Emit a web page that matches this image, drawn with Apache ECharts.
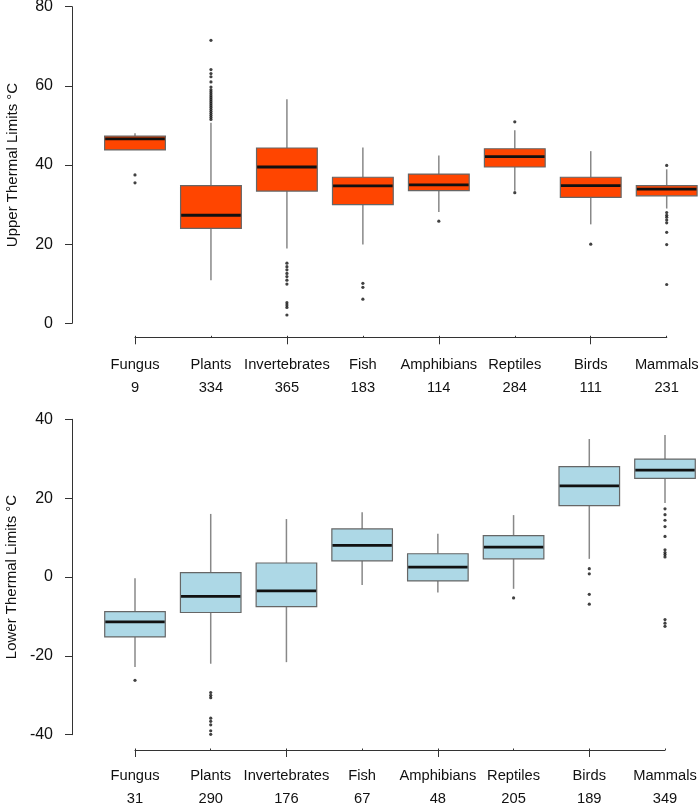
<!DOCTYPE html>
<html>
<head>
<meta charset="utf-8">
<script src="https://cdn.jsdelivr.net/npm/echarts@6/dist/echarts.min.js"></script>
<style>
html,body{margin:0;padding:0;background:#fff;}
#chart{width:700px;height:806px;}
</style>
</head>
<body>
<div id="chart"></div>
<script>
// ---- Data ----
const categories = ['Fungus','Plants','Invertebrates','Fish','Amphibians','Reptiles','Birds','Mammals'];
const upperCounts = [9,334,365,183,114,284,111,231];
const lowerCounts = [31,290,176,67,48,205,189,349];

const upperTicks = [0,20,40,60,80];
const lowerTicks = [-40,-20,0,20,40];

// Upper thermal limits: whisker low, Q1, median, Q3, whisker high
const upperLow    = [43.8, 10.9, 18.9, 19.9, 28.1, 33.5, 25.0, 29.0];
const upperQ1     = [43.8, 24.0, 33.4, 30.0, 33.5, 39.5, 31.8, 32.2];
const upperMedian = [46.6, 27.3, 39.5, 34.7, 35.0, 42.1, 34.8, 33.9];
const upperQ3     = [47.3, 34.8, 44.3, 36.9, 37.7, 44.1, 36.9, 34.8];
const upperHigh   = [48.0, 50.7, 56.6, 44.4, 42.4, 48.8, 43.5, 38.9];
const upperOutliers = [
  [37.5, 35.5],
  [71.5, 64.1, 63.1, 62.3, 61.0, 59.7, 59.0, 58.5, 58.0, 57.5, 57.0, 56.5, 56.0, 55.5, 55.0, 54.5, 54.0, 53.5, 53.0, 52.5, 52.0, 51.5],
  [15.2, 14.3, 13.5, 12.6, 11.8, 10.9, 9.9, 5.2, 4.6, 4.0, 2.1],
  [10.1, 9.1, 6.1],
  [25.8],
  [50.9, 33.0],
  [20.0],
  [39.9, 28.0, 27.3, 26.8, 26.1, 25.4, 23.0, 19.9, 9.8]
];

// Lower thermal limits
const lowerLow    = [-22.8, -22.0, -21.6, -2.0, -3.9, -3.0, 4.6, 18.8];
const lowerQ1     = [-15.2, -9.0, -7.5, 4.1, -1.0, 4.6, 18.1, 25.0];
const lowerMedian = [-11.4, -4.9, -3.5, 8.0, 2.5, 7.6, 23.1, 27.1];
const lowerQ3     = [-8.8, 1.1, 3.55, 12.2, 5.9, 10.5, 28.0, 29.9];
const lowerHigh   = [-0.3, 16.0, 14.7, 16.4, 11.0, 15.7, 35.0, 36.0];
const lowerOutliers = [
  [-26.2],
  [-29.3, -30.0, -30.6, -35.8, -36.6, -37.5, -39.0, -39.9],
  [],
  [],
  [],
  [-5.3],
  [2.1, 0.8, -4.4, -6.9],
  [17.3, 15.8, 14.4, 12.8, 10.3, 6.9, 6.2, 5.7, 5.1, -10.8, -11.7, -12.5]
];

// ---- Build ----
function boxData(lo, q1, med, q3, hi) {
  return categories.map((c, i) => [i, lo[i], q1[i], med[i], q3[i], hi[i]]);
}
function outlierData(outs) {
  const d = [];
  outs.forEach((arr, i) => arr.forEach(v => d.push([i, v])));
  return d;
}
function makeRender(fill) {
  return function (params, api) {
    const x = api.value(0);
    const lo = api.coord([x, api.value(1)]);
    const q1 = api.coord([x, api.value(2)]);
    const med = api.coord([x, api.value(3)]);
    const q3 = api.coord([x, api.value(4)]);
    const hi = api.coord([x, api.value(5)]);
    const bw = api.size([1, 0])[0] * 0.8;
    const cx = q1[0];
    const whiskerStyle = { stroke: '#888', lineWidth: 1.5 };
    return {
      type: 'group',
      children: [
        { type: 'line', shape: { x1: cx, y1: q3[1], x2: cx, y2: hi[1] }, style: whiskerStyle },
        { type: 'line', shape: { x1: cx, y1: q1[1], x2: cx, y2: lo[1] }, style: whiskerStyle },
        { type: 'rect', shape: { x: cx - bw / 2, y: q3[1], width: bw, height: q1[1] - q3[1] },
          style: { fill: fill, stroke: '#666', lineWidth: 1.2 } },
        { type: 'line', shape: { x1: cx - bw / 2 + 0.6, y1: med[1], x2: cx + bw / 2 - 0.6, y2: med[1] },
          style: { stroke: '#111', lineWidth: 2.8 } }
      ]
    };
  };
}
function xLabels(counts) {
  return categories.map((c, i) => c + '\n' + counts[i]);
}

const font = 'Liberation Sans, Arial, sans-serif';
const axisLineStyle = { color: '#333', width: 1 };

// main (hidden) category axis used for placing the boxes
function xAxisMain(gridIndex) {
  return { gridIndex: gridIndex, type: 'category', data: categories, boundaryGap: false, show: false };
}
// category axis line + labels, in a thin auxiliary grid below the plot
function xAxisLine(gridIndex, counts, margin) {
  return {
    gridIndex: gridIndex,
    type: 'category',
    data: xLabels(counts),
    boundaryGap: false,
    position: 'bottom',
    axisLine: { show: true, onZero: true, lineStyle: { color: '#333', width: 1.2 } },
    axisTick: { show: true, inside: true, length: 1.5, lineStyle: axisLineStyle },
    axisLabel: { show: true, color: '#111', fontFamily: font, fontSize: 14.7, lineHeight: 23, margin: margin, interval: 0 },
    splitLine: { show: false }
  };
}
// downward ticks hanging from the axis line
function xAxisTicks(gridIndex) {
  return {
    gridIndex: gridIndex,
    type: 'category',
    data: categories,
    boundaryGap: false,
    position: 'bottom',
    axisLine: { show: false },
    axisTick: { show: true, inside: false, length: 7, lineStyle: axisLineStyle },
    axisLabel: { show: false },
    splitLine: { show: false }
  };
}
function yAxisCfg(gridIndex, ticks, name) {
  return {
    gridIndex: gridIndex,
    type: 'value',
    min: ticks[0],
    max: ticks[ticks.length - 1],
    interval: ticks[1] - ticks[0],
    offset: 63,
    name: name,
    nameLocation: 'middle',
    nameGap: 52,
    nameTextStyle: { color: '#111', fontFamily: font, fontSize: 15 },
    axisLine: { show: true, onZero: false, lineStyle: axisLineStyle },
    axisTick: { show: true, length: 7, lineStyle: axisLineStyle },
    axisLabel: { color: '#111', fontFamily: font, fontSize: 16, margin: 19 },
    splitLine: { show: false }
  };
}
function yAxisAux(gridIndex, lo, hi) {
  return { gridIndex: gridIndex, type: 'value', min: lo, max: hi, show: false };
}

const gridBase = { containLabel: false, outerBoundsMode: 'none' };
const option = {
  backgroundColor: '#fff',
  animation: false,
  grid: [
    Object.assign({ left: 135, width: 531.7, top: 6.7, height: 316.6 }, gridBase),
    Object.assign({ left: 135, width: 530, top: 419.3, height: 315.4 }, gridBase),
    Object.assign({ left: 135, width: 531.7, top: 330.3, height: 14 }, gridBase),
    Object.assign({ left: 135, width: 530, top: 743, height: 14 }, gridBase),
    Object.assign({ left: 135, width: 531.7, top: 323.3, height: 14 }, gridBase),
    Object.assign({ left: 135, width: 530, top: 736, height: 14 }, gridBase)
  ],
  xAxis: [
    xAxisMain(0),
    xAxisMain(1),
    xAxisLine(2, upperCounts, 9),
    xAxisLine(3, lowerCounts, 7),
    xAxisTicks(4),
    xAxisTicks(5)
  ],
  yAxis: [
    yAxisCfg(0, upperTicks, 'Upper Thermal Limits °C'),
    yAxisCfg(1, lowerTicks, 'Lower Thermal Limits °C'),
    yAxisAux(2, -1, 1),
    yAxisAux(3, -1, 1),
    yAxisAux(4, 0, 1),
    yAxisAux(5, 0, 1)
  ],
  series: [
    { type: 'custom', xAxisIndex: 0, yAxisIndex: 0, renderItem: makeRender('#FF4500'),
      data: boxData(upperLow, upperQ1, upperMedian, upperQ3, upperHigh), encode: { x: 0, y: [1,2,3,4,5] }, clip: false },
    { type: 'scatter', xAxisIndex: 0, yAxisIndex: 0, data: outlierData(upperOutliers),
      symbolSize: 3.2, itemStyle: { color: '#111' }, clip: false },
    { type: 'custom', xAxisIndex: 1, yAxisIndex: 1, renderItem: makeRender('#ADD8E6'),
      data: boxData(lowerLow, lowerQ1, lowerMedian, lowerQ3, lowerHigh), encode: { x: 0, y: [1,2,3,4,5] }, clip: false },
    { type: 'scatter', xAxisIndex: 1, yAxisIndex: 1, data: outlierData(lowerOutliers),
      symbolSize: 3.2, itemStyle: { color: '#111' }, clip: false }
  ]
};

const chart = echarts.init(document.getElementById('chart'), null, { renderer: 'canvas' });
chart.setOption(option);
</script>
</body>
</html>
